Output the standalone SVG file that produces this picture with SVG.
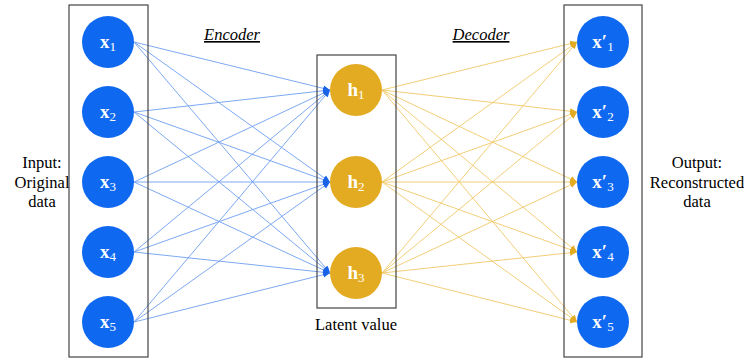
<svg xmlns="http://www.w3.org/2000/svg" width="744" height="361" viewBox="0 0 744 361">
<style>
.box{fill:none;stroke:#444;stroke-width:1.2}
.in{fill:#0f69f0}
.hid{fill:#e3ab22}
.lbl{font-family:"Liberation Serif","Times New Roman",serif;font-size:16.5px;fill:#000;text-anchor:middle}
.nt{font-family:"Liberation Serif","Times New Roman",serif;font-size:19px;font-weight:bold;fill:#fff;text-anchor:middle}
.sub{font-size:13px;font-weight:normal}
.enc{stroke:#6e9ff0;stroke-width:0.9;fill:none}
.dec{stroke:#f0c86a;stroke-width:0.9;fill:none}
</style>
<defs>
<marker id="ab" markerWidth="8" markerHeight="8" refX="7" refY="4" orient="auto" markerUnits="userSpaceOnUse"><path d="M0,1 L7,4 L0,7 Z" fill="#1a63e8"/></marker>
<marker id="ag" markerWidth="8" markerHeight="8" refX="7" refY="4" orient="auto" markerUnits="userSpaceOnUse"><path d="M0,1 L7,4 L0,7 Z" fill="#e3ab22"/></marker>
</defs>
<g id="connectors">
<g class="enc" marker-end="url(#ab)">
<path d="M134,42 L330,90"/><path d="M134,42 L330,182"/><path d="M134,42 L330,273"/>
<path d="M134,112 L330,90"/><path d="M134,112 L330,182"/><path d="M134,112 L330,273"/>
<path d="M134,182 L330,90"/><path d="M134,182 L330,182"/><path d="M134,182 L330,273"/>
<path d="M134,252 L330,90"/><path d="M134,252 L330,182"/><path d="M134,252 L330,273"/>
<path d="M134,322 L330,90"/><path d="M134,322 L330,182"/><path d="M134,322 L330,273"/>
</g>
<g class="dec" marker-end="url(#ag)">
<path d="M382,90 L577,42"/><path d="M382,90 L577,112"/><path d="M382,90 L577,182"/><path d="M382,90 L577,252"/><path d="M382,90 L577,322"/>
<path d="M382,182 L577,42"/><path d="M382,182 L577,112"/><path d="M382,182 L577,182"/><path d="M382,182 L577,252"/><path d="M382,182 L577,322"/>
<path d="M382,273 L577,42"/><path d="M382,273 L577,112"/><path d="M382,273 L577,182"/><path d="M382,273 L577,252"/><path d="M382,273 L577,322"/>
</g>
</g>
<g id="input-layer">
<rect class="box" x="69" y="5" width="79" height="352"/>
<text class="lbl" x="42" y="168">Input:</text>
<text class="lbl" x="42" y="188">Original</text>
<text class="lbl" x="42" y="207">data</text>
</g>
<g id="x1"><circle class="in" cx="108" cy="42" r="26"/><text class="nt" x="108" y="48">x<tspan class="sub" dy="3">1</tspan></text></g>
<g id="x2"><circle class="in" cx="108" cy="112" r="26"/><text class="nt" x="108" y="118">x<tspan class="sub" dy="3">2</tspan></text></g>
<g id="x3"><circle class="in" cx="108" cy="182" r="26"/><text class="nt" x="108" y="188">x<tspan class="sub" dy="3">3</tspan></text></g>
<g id="x4"><circle class="in" cx="108" cy="252" r="26"/><text class="nt" x="108" y="258">x<tspan class="sub" dy="3">4</tspan></text></g>
<g id="x5"><circle class="in" cx="108" cy="322" r="26"/><text class="nt" x="108" y="328">x<tspan class="sub" dy="3">5</tspan></text></g>
<g id="latent-layer">
<rect class="box" x="317" y="55" width="79" height="253"/>
<text class="lbl" x="356" y="330">Latent value</text>
</g>
<g id="h1"><circle class="hid" cx="356" cy="90" r="26"/><text class="nt" x="356" y="96">h<tspan class="sub" dy="3">1</tspan></text></g>
<g id="h2"><circle class="hid" cx="356" cy="182" r="26"/><text class="nt" x="356" y="188">h<tspan class="sub" dy="3">2</tspan></text></g>
<g id="h3"><circle class="hid" cx="356" cy="273" r="26"/><text class="nt" x="356" y="279">h<tspan class="sub" dy="3">3</tspan></text></g>
<g id="output-layer">
<rect class="box" x="564" y="5" width="78" height="352"/>
<text class="lbl" x="697" y="168">Output:</text>
<text class="lbl" x="697" y="188">Reconstructed</text>
<text class="lbl" x="697" y="207">data</text>
</g>
<g id="xp1"><circle class="in" cx="603" cy="42" r="26"/><text class="nt" x="603" y="48">x′<tspan class="sub" dy="3">1</tspan></text></g>
<g id="xp2"><circle class="in" cx="603" cy="112" r="26"/><text class="nt" x="603" y="118">x′<tspan class="sub" dy="3">2</tspan></text></g>
<g id="xp3"><circle class="in" cx="603" cy="182" r="26"/><text class="nt" x="603" y="188">x′<tspan class="sub" dy="3">3</tspan></text></g>
<g id="xp4"><circle class="in" cx="603" cy="252" r="26"/><text class="nt" x="603" y="258">x′<tspan class="sub" dy="3">4</tspan></text></g>
<g id="xp5"><circle class="in" cx="603" cy="322" r="26"/><text class="nt" x="603" y="328">x′<tspan class="sub" dy="3">5</tspan></text></g>
<g id="labels">
<text class="lbl" x="232" y="40" font-style="italic" text-decoration="underline">Encoder</text>
<text class="lbl" x="481" y="40" font-style="italic" text-decoration="underline">Decoder</text>
</g>
</svg>
